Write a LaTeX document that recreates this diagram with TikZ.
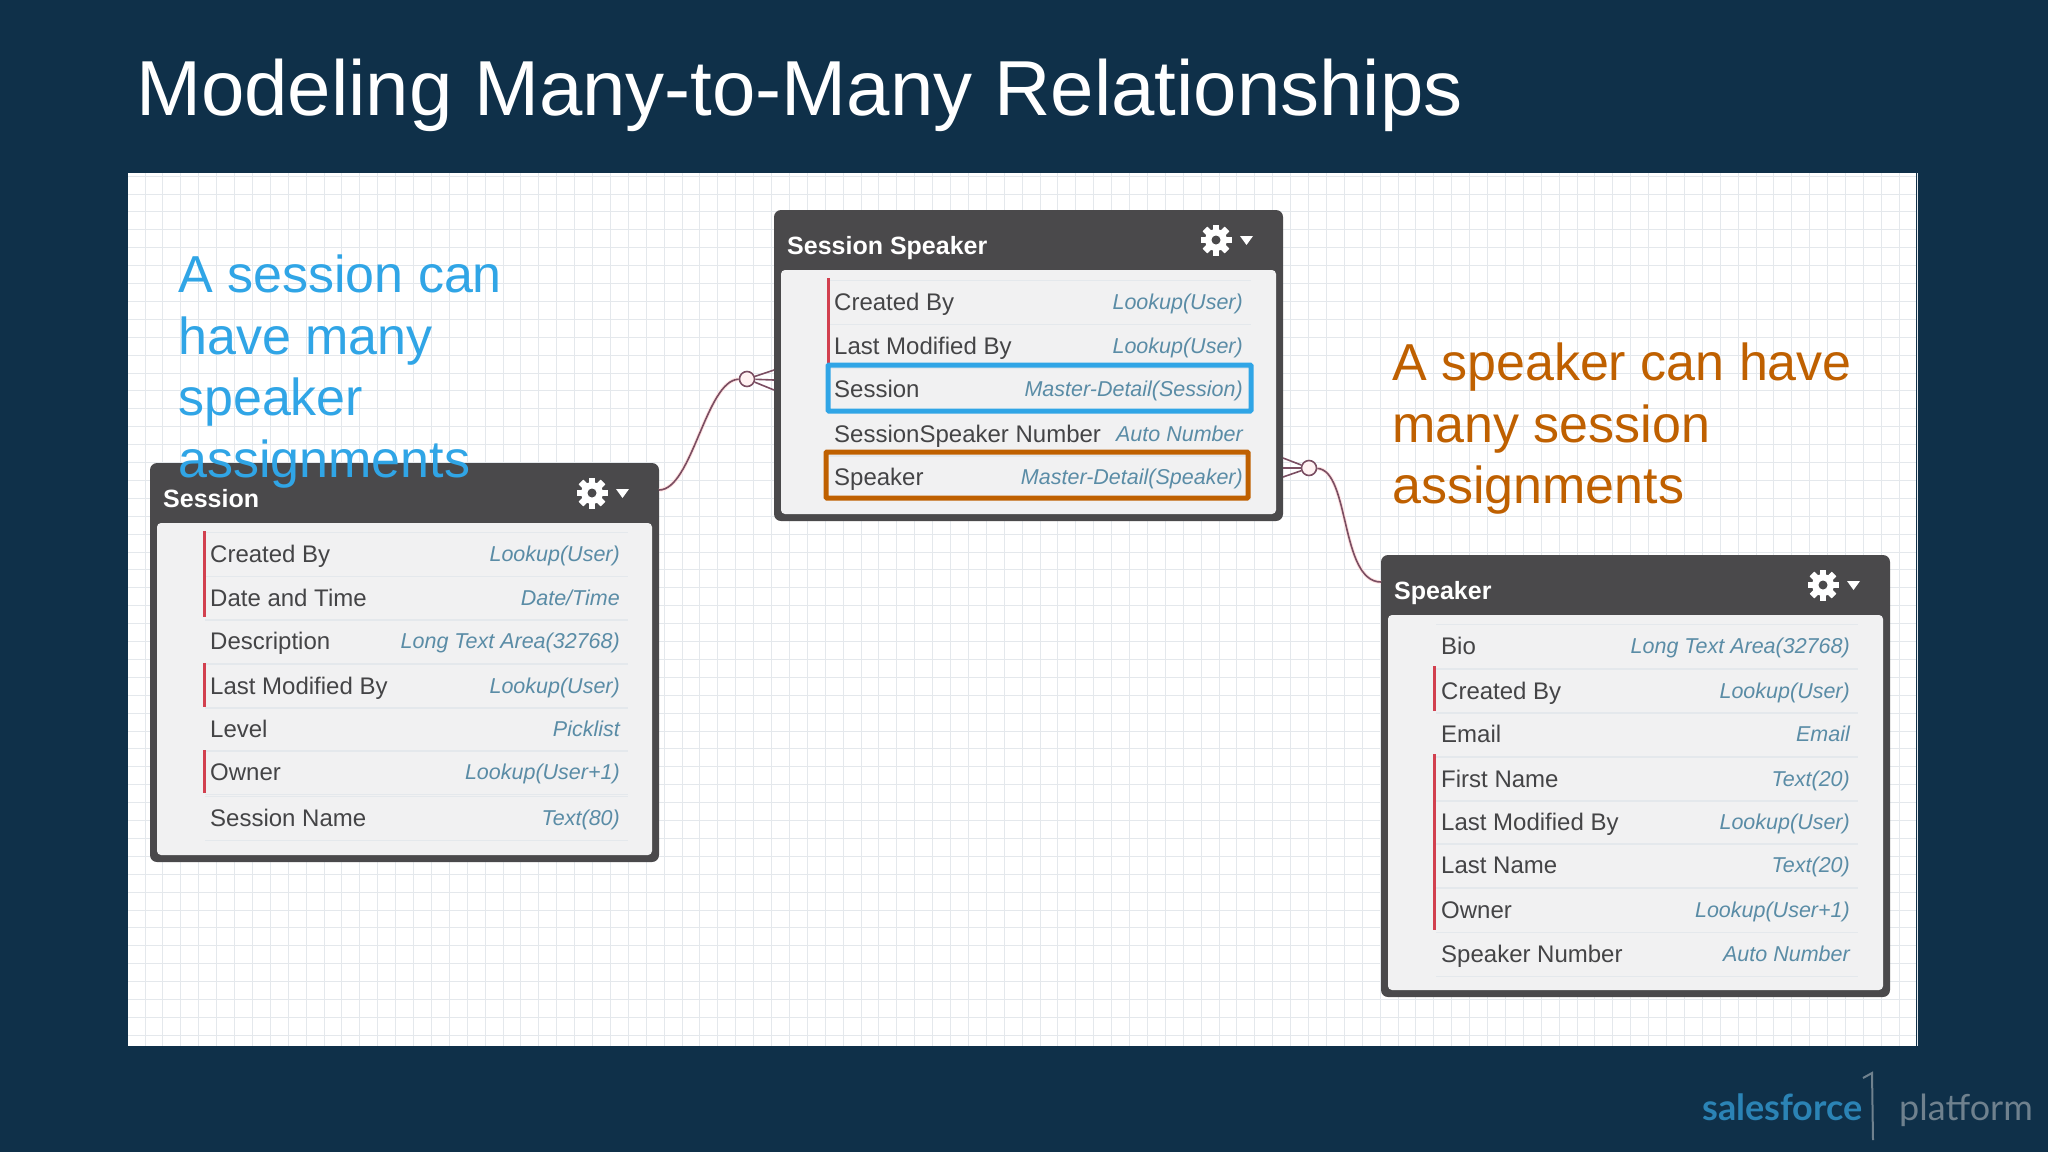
\documentclass[tikz,border=0pt]{standalone}
\usepackage{fontspec}
\setmainfont{Liberation Sans}
\newfontfamily\logofont{Lato}
\definecolor{slidebg}{HTML}{0F3049}
\definecolor{boxdark}{HTML}{4A494B}
\definecolor{boxbody}{HTML}{F1F1F2}
\definecolor{fieldgrey}{HTML}{444446}
\definecolor{typeteal}{HTML}{5A8CA6}
\definecolor{sessionblue}{HTML}{30A5E6}
\definecolor{speakerorange}{HTML}{BF6000}
\definecolor{barred}{HTML}{D2404F}
\definecolor{linkplum}{HTML}{7A4E62}
\definecolor{gridgrey}{HTML}{E4E8EC}
\definecolor{logoblue}{HTML}{2B83B5}
\definecolor{logogrey}{HTML}{6F818E}
\tikzset{
  entitybox/.style={anchor=north west,fill=boxdark,rounded corners=7pt,inner sep=0pt,outer sep=0pt},
  bodybox/.style={anchor=north west,fill=boxbody,rounded corners=4pt,inner sep=0pt,outer sep=0pt},
  boxtitle/.style={anchor=base west,inner sep=0pt,text=white,font=\fontsize{25}{25}\selectfont\bfseries},
  fieldname/.style={anchor=base west,inner sep=0pt,text=fieldgrey,font=\fontsize{24}{24}\selectfont},
  fieldtype/.style={anchor=base east,inner sep=0pt,text=typeteal,font=\fontsize{21.5}{21.5}\selectfont\itshape},
  note/.style={anchor=north west,inner sep=0pt,align=left,font=\fontsize{52}{61.4}\selectfont},
  linkline/.style={draw=linkplum,line width=1.6pt,preaction={draw=pink!45,line width=3.5pt}},
  linkend/.style={circle,draw=linkplum,fill=pink!20,line width=1.6pt,minimum size=15pt,inner sep=0pt},
  cog/.pic={
    \fill[white] (0,0) circle (11);
    \foreach \a in {0,45,...,315}
      \fill[white,rotate=\a] (-3.2,-15.5) rectangle (3.2,15.5);
    \fill[boxdark] (0,0) circle (4.5);
    \fill[white] (24,-4) -- (37,-4) -- (30.5,5) -- cycle;
  }
}
\begin{document}
\begin{tikzpicture}[x=1pt,y=-1pt]
  \fill[slidebg] (0,0) rectangle (2048,1152);
  \node[anchor=base west,inner sep=0pt,text=white,font=\fontsize{78}{78}\selectfont] (title) at (136,115) {Modeling Many-to-Many Relationships};
  \node[anchor=north west,fill=white,inner sep=0pt,outer sep=0pt,minimum width=1788pt,minimum height=873pt] (panel) at (128,173) {};
  % grid
  \foreach \n in {0,...,99}
    \draw[gridgrey,line width=0.8pt] ({127+17.9*(\n+1)},173) -- ({127+17.9*(\n+1)},1046);
  \foreach \n in {0,...,48}
    \draw[gridgrey,line width=0.8pt] (128,{176+17.9*\n}) -- (1916,{176+17.9*\n});
  % boxes
  \def \Boxes{
    session/150/463/509/399/Session,
    link/774/210/509/311/Session Speaker,
    speaker/1381/555/509/442/Speaker}
  \foreach \id / \x / \y / \w / \h / \t in \Boxes{
    \node[entitybox,minimum width=\w pt,minimum height=\h pt] (\id) at (\x,\y) {};
    \node[bodybox,minimum width={(\w-14)*1pt},minimum height={(\h-67)*1pt}] (\id body) at (\x+7,\y+60) {};
    \node[boxtitle] (\id title) at (\x+13,\y+44) {\t};
    \pic at (\x+442,\y+30) {cog};
  }
  % rows
  \def \Rows{
    210/620/554/Created By/Lookup(User),
    210/620/598/Date and Time/Date{/}Time,
    210/620/641/Description/Long Text Area(32768),
    210/620/686/Last Modified By/Lookup(User),
    210/620/729/Level/Picklist,
    210/620/772/Owner/Lookup(User+1),
    210/620/818/Session Name/Text(80),
    834/1243/302/Created By/Lookup(User),
    834/1243/346/Last Modified By/Lookup(User),
    834/1243/389/Session/Master-Detail(Session),
    834/1243/434/SessionSpeaker Number/Auto Number,
    834/1243/477/Speaker/Master-Detail(Speaker),
    1441/1850/646/Bio/Long Text Area(32768),
    1441/1850/691/Created By/Lookup(User),
    1441/1850/734/Email/Email,
    1441/1850/779/First Name/Text(20),
    1441/1850/822/Last Modified By/Lookup(User),
    1441/1850/865/Last Name/Text(20),
    1441/1850/910/Owner/Lookup(User+1),
    1441/1850/954/Speaker Number/Auto Number}
  \foreach \lx / \rx / \y / \f / \t [count=\n] in \Rows{
    \draw[gridgrey,line width=1pt] (\lx-5,\y-22) -- (\rx+8,\y-22);
    \draw[gridgrey,line width=1pt] (\lx-5,\y+22) -- (\rx+8,\y+22);
    \node[fieldname] (field\n) at (\lx,\y+8) {\f};
    \node[fieldtype] (type\n) at (\rx,\y+7) {\t};
  }
  % required bars
  \def \Bars{
    204/531/617,
    204/663/707,
    204/750/793,
    828/278/363,
    1434.5/666/711,
    1434.5/754/930}
  \foreach \x / \a / \b in \Bars{
    \draw[barred,line width=3pt] (\x,\a) -- (\x,\b);
  }
  % highlights
  \draw[sessionblue,line width=5pt,rounded corners=1pt] (828,365) rectangle (1251,411);
  \draw[speakerorange,line width=5pt,rounded corners=1pt] (826,452) rectangle (1248,498);
  % links
  \node[linkend] (sessionEnd) at (747,379) {};
  \node[linkend] (speakerEnd) at (1309,468) {};
  \draw[linkline] (session.east |- 0,490) .. controls (692,490) and (706,380) .. (sessionEnd);
  \draw[linkline] (speakerEnd) .. controls (1350,470) and (1340,582) .. (speaker.west |- 0,582);
  \foreach \y in {370,380,390}
    \draw[linkplum,line width=1.6pt] (sessionEnd) -- (link.west |- 0,\y);
  \foreach \y in {458,468,477}
    \draw[linkplum,line width=1.6pt] (speakerEnd) -- (link.east |- 0,\y);
  % notes
  \node[note,text=sessionblue] (sessionNote) at (178,255) {A session can\\have many\\speaker\\assignments};
  \node[note,text=speakerorange] (speakerNote) at (1392,343) {A speaker can have\\many session\\assignments};
  % logo
  \node[anchor=base west,inner sep=0pt,text=logoblue,font=\logofont\fontsize{36}{36}\selectfont\bfseries] (salesforce) at (1702,1120) {salesforce};
  \node[anchor=base west,inner sep=0pt,text=logogrey,font=\logofont\fontsize{36}{36}\selectfont] (platform) at (1899,1120) {platform};
  \draw[logogrey,line width=2pt] (1863,1078) -- (1872,1073) -- (1873,1140);
\end{tikzpicture}
\end{document}
